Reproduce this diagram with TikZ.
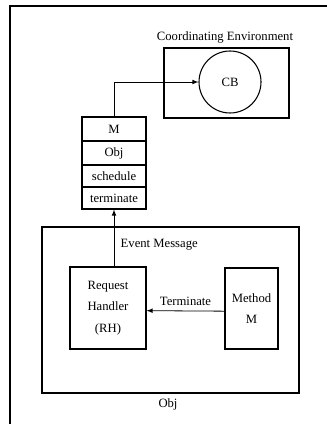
\documentclass[tikz,border=0pt]{standalone}
\usepackage{fontspec}
\setmainfont{Liberation Serif}
\begin{document}
\begin{tikzpicture}[x=0.75pt, y=-0.75pt, >=latex, every node/.style={font=\fontsize{9.5}{16}\selectfont},
  box/.style={draw,thick,inner sep=0pt,align=center},
  slot/.style={draw,thick,inner sep=0pt,minimum width=48pt}]
\useasboundingbox (0,0) rectangle (327,424);
% frame
\draw[thick] (10,424) -- (10,6) -- (327,6);
% coordinating environment
\node (celab) at (225,37) {Coordinating Environment};
\node[box,minimum width=93.75pt,minimum height=52.5pt] (ce) at (226.5,83) {};
\node[draw,thick,circle,minimum size=46.5pt,inner sep=0pt] (cb) at (230,82) {CB};
% message stack
\node[slot,minimum height=18pt] (msg) at (114,129) {M};
\node[slot,minimum height=18pt] (obj) at (114,153) {Obj};
\node[slot,minimum height=16.5pt] (sch) at (114,176) {schedule};
\node[slot,minimum height=16.5pt] (trm) at (114,198) {terminate};
% object
\node[box,minimum width=192.75pt,minimum height=124.5pt] (objbox) at (170.5,310) {};
\node (objlab) at (168,404) {Obj};
\node[box,minimum width=57pt,minimum height=61.5pt] (rh) at (108,308) {Request\\Handler\\(RH)};
\node[box,minimum width=39.75pt,minimum height=60.75pt] (meth) at (251.5,308.5) {Method\\M};
\node[anchor=west] (evlab) at (116,245) {Event Message};
% connectors
\draw[->,semithick] (rh.north -| trm.south) -- (trm.south);
\draw[->,semithick] (msg.north) |- (cb.west);
\draw[->,semithick] ([yshift=-2pt]meth.west) -- node[above] (tlab) {Terminate} ([yshift=-2pt]rh.east);
\end{tikzpicture}
\end{document}
